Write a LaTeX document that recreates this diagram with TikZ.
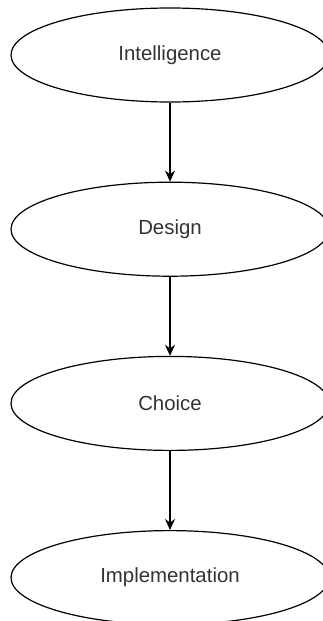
\documentclass[tikz,border=0pt]{standalone}
\usepackage{fontspec}
\setmainfont{Liberation Sans}
\usepackage{xcolor}
\usetikzlibrary{shapes.geometric,positioning,arrows.meta}
\definecolor{labelgray}{HTML}{333333}
\tikzset{
	phase/.style={
			ellipse, draw=black, line width=1.2pt,
			minimum width=318pt, minimum height=94pt, inner sep=0pt,
			text=labelgray, font=\fontsize{20.4}{24}\selectfont
		},
	flow/.style={-{Stealth[length=11pt,width=10pt]}, black, line width=1.2pt}
}

\begin{document}
\begin{tikzpicture}[x=1pt, y=1pt, node distance=79pt]
		\useasboundingbox	(0, 0) rectangle (323, -621);
		\clip	(0, 0) rectangle (323, -621);

		\node[phase] (intel)	at (170, -55) {Intelligence};
		\node[phase, below=of intel] (design)	{Design};
		\node[phase, below=of design] (choice)	{Choice};
		\node[phase, below=of choice] (impl)	{Implementation};

		\draw[flow]	(intel) to (design);
		\draw[flow]	(design) to (choice);
		\draw[flow]	(choice) to (impl);
	\end{tikzpicture}
\end{document}
